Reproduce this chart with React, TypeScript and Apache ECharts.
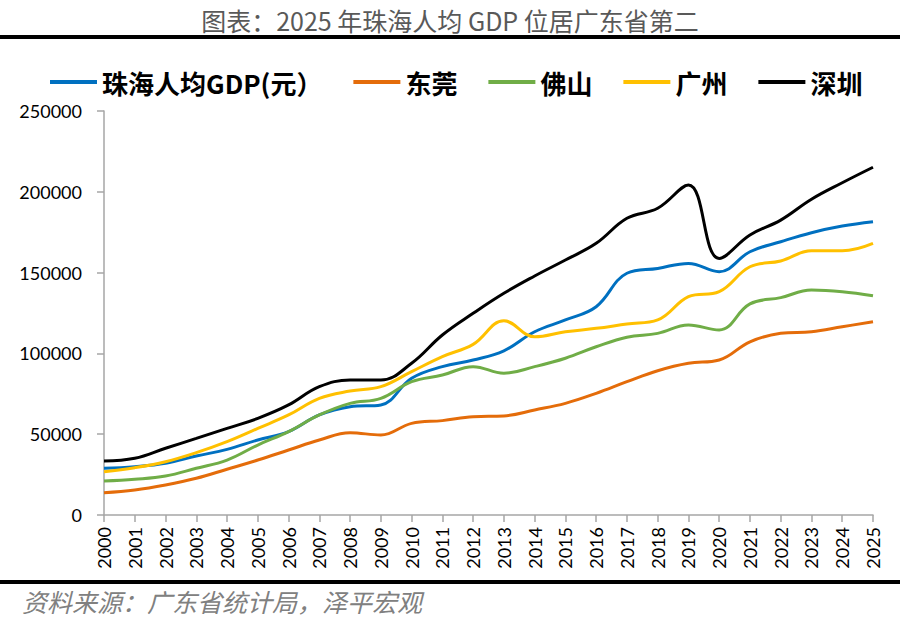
import React, { useEffect, useRef } from "react";
import * as echarts from "echarts";

const years = ["2000","2001","2002","2003","2004","2005","2006","2007","2008","2009","2010","2011","2012","2013","2014","2015","2016","2017","2018","2019","2020","2021","2022","2023","2024","2025"];
const zhuhai = [28900, 29900, 32000, 36500, 40600, 46400, 51600, 61900, 67000, 68100, 84600, 91800, 95900, 101600, 113400, 120700, 128900, 149600, 152600, 155700, 150600, 162900, 169100, 174700, 178800, 181500];
const dongguan = [13800, 15500, 18600, 22700, 28300, 34000, 40200, 46400, 50900, 49500, 56700, 58400, 60800, 61300, 65000, 69100, 75300, 82500, 89300, 93900, 95900, 107200, 112400, 113400, 116500, 119600];
const foshan = [21000, 22100, 24100, 28900, 34000, 43300, 51600, 61900, 69100, 72200, 82500, 86600, 91800, 87700, 91800, 97000, 104100, 110000, 112400, 117600, 114500, 130600, 134500, 139200, 138200, 135700];
const guangzhou = [26800, 29300, 33000, 38600, 45400, 53600, 61900, 72200, 76700, 79400, 88700, 98000, 105600, 120200, 110300, 113400, 115500, 118200, 120700, 135100, 138200, 153600, 157200, 163500, 163500, 168100];
const shenzhen = [33400, 35100, 41300, 47400, 53600, 59800, 68100, 79400, 83500, 83500, 93900, 111400, 124800, 137200, 147900, 157800, 168100, 183600, 189800, 204200, 158800, 173300, 182500, 195400, 205600, 215200];

const seriesNames = ["珠海人均GDP(元）", "东莞", "佛山", "广州", "深圳"];
const seriesColors = ["#0070C0", "#E46C0A", "#70AD47", "#FFC000", "#000000"];
const seriesData = [zhuhai, dongguan, foshan, guangzhou, shenzhen];

const titleText = "图表：2025 年珠海人均 GDP 位居广东省第二";
const sourceText = "资料来源：广东省统计局，泽平宏观";

export default function App() {
  const ref = useRef<HTMLDivElement>(null);
  useEffect(() => {
    if (!ref.current) return;
    const chart = echarts.init(ref.current, null, { renderer: "svg" });
    const cjk = "'Noto Sans CJK SC', 'Noto Sans', sans-serif";
    chart.setOption({
      animation: false,
      backgroundColor: "#ffffff",
      title: {
        text: titleText,
        left: "center",
        top: 2,
        textStyle: { fontFamily: cjk, fontSize: 25, fontWeight: "normal", color: "#595959" },
      },
      legend: {
        data: seriesNames,
        left: 45,
        top: 64,
        icon: "rect",
        itemWidth: 47,
        itemHeight: 4,
        itemGap: 31,
        textStyle: { fontFamily: cjk, fontSize: 26, fontWeight: "bold", color: "#000" },
      },
      grid: { left: 104, right: 27, top: 111, bottom: 110, containLabel: false },
      xAxis: {
        type: "category",
        data: years,
        boundaryGap: false,
        axisLine: { lineStyle: { color: "#a6a6a6", width: 1.5 } },
        axisTick: { alignWithLabel: true, length: 7, lineStyle: { color: "#a6a6a6", width: 1.5 } },
        axisLabel: { rotate: 90, interval: 0, fontFamily: "Lato, 'Open Sans', sans-serif", fontSize: 18, color: "#000", margin: 12 },
      },
      yAxis: {
        type: "value",
        min: 0,
        max: 250000,
        interval: 50000,
        splitLine: { show: false },
        axisLine: { show: true, lineStyle: { color: "#a6a6a6", width: 1.5 } },
        axisTick: { show: true, length: 7, lineStyle: { color: "#a6a6a6", width: 1.5 } },
        axisLabel: {
          fontFamily: "Lato, 'Open Sans', sans-serif",
          fontSize: 18,
          color: "#000",
          margin: 22,
          formatter: (v: number) => String(v),
        },
      },
      series: seriesData.map((d, i) => ({
        name: seriesNames[i],
        type: "line",
        data: d,
        smooth: 0.4,
        showSymbol: false,
        symbol: "none",
        lineStyle: { color: seriesColors[i], width: 3 },
        itemStyle: { color: seriesColors[i] },
      })),
      graphic: [
        { type: "rect", shape: { x: 0, y: 35, width: 900, height: 4 }, style: { fill: "#000" } },
        { type: "rect", shape: { x: 0, y: 580, width: 900, height: 4 }, style: { fill: "#000" } },
        {
          type: "text",
          x: 22,
          y: 601,
          style: {
            text: sourceText,
            fontFamily: cjk,
            fontSize: 25,
            fontStyle: "italic",
            fill: "#808080",
            verticalAlign: "middle",
          },
        },
      ],
    });
    return () => chart.dispose();
  }, []);
  return <div ref={ref} style={{ position: "absolute", left: 0, top: 0, width: 900, height: 625 }} />;
}
